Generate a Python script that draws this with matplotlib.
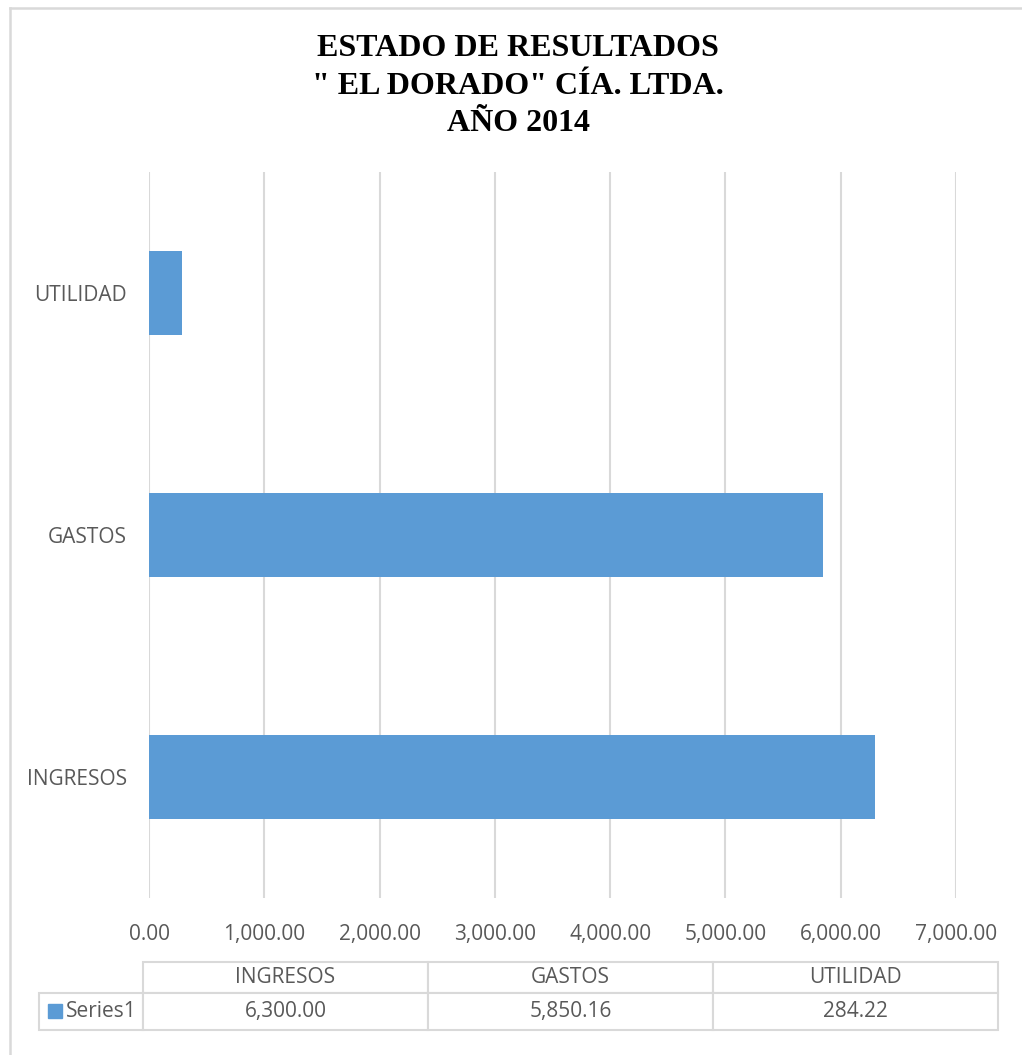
import matplotlib.pyplot as plt
from matplotlib.table import Table
from matplotlib.patches import Rectangle
from matplotlib.lines import Line2D

categories = ["INGRESOS", "GASTOS", "UTILIDAD"]
values = [6300.00, 5850.16, 284.22]
series_name = "Series1"
xticks = [0, 1000, 2000, 3000, 4000, 5000, 6000, 7000]
title_lines = ["ESTADO DE RESULTADOS", "\" EL DORADO\" CÍA. LTDA.", "AÑO 2014"]

BAR = "#5B9BD5"
GRID = "#D9D9D9"
TXT = "#595959"
W, H = 1022, 1055

plt.rcParams['font.family'] = ['Open Sans', 'DejaVu Sans']

fig = plt.figure(figsize=(W / 100, H / 100), dpi=100)

# chart frame (top and left edges visible)
fig.add_artist(Line2D([10 / W, 1], [1 - 8 / H, 1 - 8 / H], color=GRID, lw=1.8))
fig.add_artist(Line2D([10 / W, 10 / W], [0, 1 - 8 / H], color=GRID, lw=1.8))

fig.text(518 / W, 1 - 86 / H, "\n".join(title_lines), ha="center", va="center",
         fontsize=23, fontweight="bold", family="Liberation Serif",
         linespacing=1.38, color="black")

ax = fig.add_axes([149 / W, (H - 898) / H, (956 - 149) / W, (898 - 172) / H])
ypos = list(range(len(categories)))
ax.barh(ypos, values, height=0.35, color=BAR, zorder=3)
ax.set_yticks(ypos)
ax.set_yticklabels(categories)
ax.set_ylim(-0.5, len(categories) - 0.5)
ax.set_xlim(xticks[0], xticks[-1])
ax.set_xticks(xticks)
ax.set_xticklabels(["{:,.2f}".format(t) for t in xticks])
ax.grid(axis="x", color=GRID, lw=1.5, zorder=0)
for s in ax.spines.values():
    s.set_visible(False)
ax.tick_params(axis="both", length=0, labelsize=15, labelcolor=TXT)
ax.tick_params(axis="x", pad=19)
ax.tick_params(axis="y", pad=16)

# data table below the chart
tax = fig.add_axes([39 / W, (H - 1030) / H, (998 - 39) / W, (1030 - 962) / H])
tax.set_axis_off()
tb = Table(tax, bbox=[0, 0, 1, 1])
widths = [104, 285, 285, 285]
for j, c in enumerate(categories):
    tb.add_cell(0, j + 1, widths[j + 1], 31, text=c, loc="center")
for j, v in enumerate(values):
    tb.add_cell(1, j + 1, widths[j + 1], 37, text="{:,.2f}".format(v), loc="center")
lab = tb.add_cell(1, 0, widths[0], 37, text=series_name, loc="right")
lab.PAD = 0.06
tb.add_cell(0, 0, widths[0], 31, text="", loc="center").visible_edges = ""
for (r, c), cell in tb.get_celld().items():
    cell.set_edgecolor(GRID)
    cell.set_linewidth(1.5)
    cell.get_text().set_color(TXT)
    cell.get_text().set_fontsize(15)
tb.auto_set_font_size(False)
tax.add_table(tb)
tax.add_patch(Rectangle((9 / 959, 12 / 68), 14 / 959, 14 / 68, color=BAR,
                        transform=tax.transAxes, clip_on=False))

fig.savefig("out.png", dpi=100)
